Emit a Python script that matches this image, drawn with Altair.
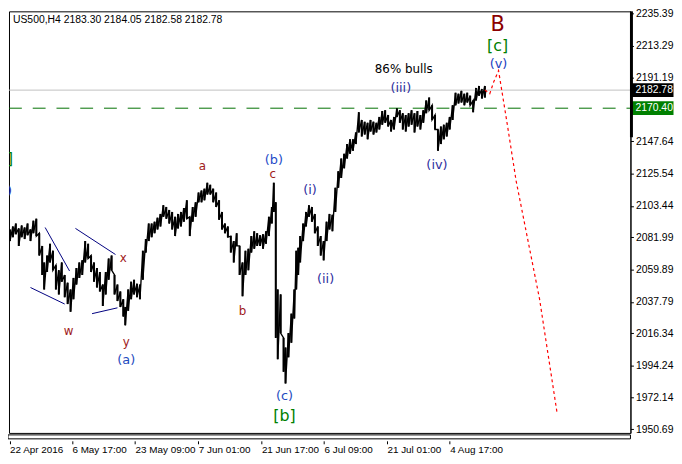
import altair as alt
import pandas as pd

# ---- price bars (bar index, high, low) ----
bar_x = [3, 6, 9, 12, 15, 18, 21, 24, 27, 30, 33, 36, 38, 41, 44, 47, 50, 53, 56, 59,
         62, 65, 68, 71, 74, 77, 80, 83, 86, 89, 92, 95, 98, 101, 104, 107, 110, 113, 116, 119,
         121, 124, 127, 130, 133, 136, 139, 142, 145, 148, 151, 154, 157, 160, 163, 166, 169, 172, 175, 178,
         181, 184, 187, 190, 193, 196, 199, 202, 205, 208, 211, 214, 217, 220, 223, 226, 229, 232, 235, 238,
         241, 244, 247, 250, 253, 256, 259, 262, 265, 268, 271, 273, 275, 277, 280, 283, 285, 288, 291, 294,
         296, 298, 300, 303, 306, 309, 312, 315, 318, 321, 324, 327, 330, 333, 336, 339, 342, 345, 348, 351,
         354, 357, 360, 363, 366, 369, 372, 375, 378, 381, 384, 387, 390, 393, 396, 399, 402, 405, 408, 411,
         414, 417, 420, 423, 426, 429, 432, 435, 438, 441, 444, 447, 450, 453, 456, 459, 462, 465, 468, 471,
         474, 477, 480, 483, 486, 489]
bar_high = [2087.4, 2089.4, 2091.4, 2088.1, 2090.1, 2088.7, 2091.4, 2087.4, 2093.4, 2094.7, 2084.8, 2076.1, 2064.8, 2069.5, 2077.5, 2072.8, 2062.9, 2059.5, 2064.8, 2056.2,
            2050.9, 2046.3, 2054.2, 2060.9, 2064.8, 2066.2, 2079.4, 2077.5, 2069.5, 2064.8, 2060.9, 2058.2, 2049.6, 2058.2, 2067.5, 2069.5, 2056.2, 2049.6, 2044.9, 2039.6,
            2034.3, 2046.3, 2051.6, 2052.9, 2050.2, 2049.6, 2072.8, 2080.8, 2091.4, 2091.4, 2092.7, 2095.4, 2098.0, 2104.0, 2102.7, 2100.7, 2099.4, 2096.0, 2098.0, 2099.4,
            2102.0, 2107.3, 2096.0, 2102.7, 2106.0, 2112.6, 2114.0, 2115.3, 2119.3, 2117.9, 2115.3, 2112.6, 2107.3, 2099.4, 2091.4, 2089.4, 2082.8, 2079.4, 2084.8, 2076.1,
            2064.8, 2072.8, 2074.1, 2082.8, 2086.1, 2084.8, 2083.4, 2084.1, 2086.1, 2096.0, 2102.7, 2119.3, 2106.0, 2046.3, 2042.9, 2013.1, 2006.5, 2016.4, 2029.7, 2046.3,
            2072.8, 2074.8, 2082.8, 2091.4, 2099.4, 2104.0, 2102.7, 2098.0, 2089.4, 2082.8, 2079.4, 2092.7, 2098.0, 2097.4, 2115.9, 2127.2, 2135.9, 2139.2, 2145.8, 2149.1,
            2149.1, 2153.8, 2167.7, 2162.4, 2161.1, 2160.4, 2162.4, 2161.1, 2160.4, 2164.4, 2168.4, 2169.0, 2165.7, 2162.4, 2164.4, 2170.4, 2169.0, 2167.0, 2165.7, 2167.0,
            2169.0, 2167.0, 2168.4, 2165.7, 2169.0, 2175.7, 2177.7, 2172.4, 2165.7, 2155.8, 2157.8, 2159.1, 2160.4, 2164.4, 2172.4, 2181.0, 2180.3, 2182.3, 2180.3, 2181.0,
            2179.0, 2175.7, 2184.3, 2185.6, 2183.6, 2185.6]
bar_low = [2079.4, 2082.1, 2084.1, 2076.1, 2082.1, 2080.8, 2083.4, 2079.4, 2084.8, 2082.8, 2069.5, 2056.2, 2046.3, 2058.2, 2064.8, 2059.5, 2046.3, 2042.9, 2051.6, 2041.0,
           2036.3, 2031.0, 2039.6, 2049.6, 2054.2, 2056.2, 2064.8, 2067.5, 2058.2, 2051.6, 2047.6, 2044.9, 2035.0, 2042.9, 2052.9, 2059.5, 2042.9, 2038.3, 2034.3, 2027.7,
           2021.7, 2031.7, 2039.6, 2042.9, 2041.0, 2039.6, 2052.9, 2071.5, 2079.4, 2082.1, 2084.8, 2087.4, 2089.4, 2096.0, 2094.7, 2091.4, 2087.4, 2082.8, 2088.1, 2089.4,
           2092.7, 2094.7, 2082.8, 2092.7, 2096.0, 2106.0, 2106.0, 2107.3, 2111.3, 2111.3, 2106.0, 2102.7, 2094.0, 2087.4, 2084.8, 2082.1, 2071.5, 2064.8, 2076.1, 2056.2,
           2041.6, 2056.2, 2059.5, 2071.5, 2074.1, 2076.1, 2076.1, 2074.1, 2077.5, 2082.8, 2091.4, 2099.4, 2013.1, 1998.5, 2016.4, 1989.9, 1981.9, 1999.8, 2009.8, 2026.4,
           2046.3, 2056.2, 2064.8, 2079.4, 2089.4, 2096.0, 2092.7, 2084.8, 2076.1, 2069.5, 2066.2, 2079.4, 2087.4, 2086.1, 2099.4, 2115.9, 2122.6, 2129.2, 2135.9, 2139.2,
           2141.2, 2145.8, 2153.8, 2151.1, 2152.4, 2149.1, 2154.4, 2152.4, 2153.8, 2155.8, 2159.1, 2160.4, 2157.8, 2154.4, 2155.8, 2164.4, 2160.4, 2155.8, 2154.4, 2157.8,
           2159.1, 2153.8, 2157.8, 2155.8, 2160.4, 2167.0, 2169.0, 2162.4, 2155.8, 2141.2, 2145.8, 2149.1, 2151.1, 2155.8, 2162.4, 2172.4, 2173.7, 2174.3, 2172.4, 2174.3,
           2172.4, 2167.7, 2175.7, 2179.0, 2177.0, 2177.7]
last_close = 2182.78
last_x = 490

# ---- projection (red dotted) ----
proj_x = [489, 494, 498, 503, 512, 521, 545, 563]
proj_y = [2182.8, 2180.3, 2188.3, 2196.2, 2159.1, 2120.6, 2039.6, 1961.3]

# ---- blue trend lines ----
tl_id = [1, 1, 2, 2, 3, 3, 4, 4]
tl_x = [24, 59, 39, 64, 70, 111, 87, 113]
tl_y = [2047.6, 2036.3, 2088.7, 2058.9, 2088.1, 2070.2, 2029.7, 2033.7]

# ---- wave labels ----
lab_text = ["[a]", "(v)", "w", "x", "y", "(a)", "a", "b", "(b)", "c", "(c)", "[b]",
            "(i)", "(ii)", "(iii)", "86% bulls", "(iv)", "(v)", "[c]", "B"]
lab_x = [-5, -4, 63, 119, 122, 122, 200, 241, 273, 272, 284, 284,
         310, 326, 403, 406, 440, 503, 502, 502]
lab_y = [2135.9, 2114.0, 2017.7, 2067.5, 2010.4, 1997.8, 2130.5, 2031.7, 2135.2, 2125.2, 1973.3, 1959.3,
         2114.6, 2053.6, 2184.3, 2196.9, 2131.2, 2200.9, 2212.8, 2227.5]
lab_color = ["#008000", "#2E2E9E", "#A0201A", "#A0201A", "#A0201A", "#1E4BC0", "#A0201A", "#A0201A",
             "#1E4BC8", "#A0201A", "#1E4BC0", "#008000",
             "#2E2E9E", "#2E2E9E", "#2E2E9E", "#000000", "#2E2E9E", "#2040C0", "#008000", "#8B0000"]
lab_size = [16, 13, 12, 12, 12, 13, 12, 12, 13, 12, 13, 16,
            13, 13, 13, 12, 13, 13, 16, 21]

# ---- levels & axes ----
current_price = 2182.78
level_price = 2170.40
y_ticks = [2235.39, 2213.29, 2191.19, 2147.64, 2125.54, 2103.44, 2081.99,
           2059.89, 2037.79, 2016.34, 1994.24, 1972.14, 1950.69]
x_tick_pos = [2.6, 66.4, 131, 195.7, 260.3, 324.4, 388.8, 453]
x_tick_lab = ["22 Apr 2016", "6 May 17:00", "23 May 09:00", "7 Jun 01:00",
              "21 Jun 17:00", "6 Jul 09:00", "21 Jul 01:00", "4 Aug 17:00"]
y_domain = [1948.04, 2236.72]
x_domain = [2, 638]
scale_bar_bottom = 2150.5

W, H = 628, 426
FONT = "Liberation Sans"

xs = alt.Scale(domain=x_domain, nice=False, zero=False)
ys = alt.Scale(domain=y_domain, nice=False, zero=False)

label_expr = " : ".join(f"abs(datum.value - {p}) < 0.5 ? '{l}'" for p, l in zip(x_tick_pos, x_tick_lab)) + " : ''"

bars = pd.DataFrame({"x": bar_x, "hi": bar_high, "lo": bar_low})

path_rows = []
k = 0
for xv, h, l in zip(bar_x, bar_high, bar_low):
    path_rows.append({"x": xv, "p": h, "o": k}); k += 1
    path_rows.append({"x": xv, "p": l, "o": k}); k += 1
path_rows.append({"x": last_x, "p": last_close, "o": k})
path = pd.DataFrame(path_rows)

x_axis = alt.Axis(
    values=x_tick_pos, labelExpr=label_expr, grid=False, domain=False,
    ticks=True, tickSize=3, tickColor="black", labelAlign="left", labelPadding=1,
    labelFont=FONT, labelFontSize=10, labelColor="black", offset=8, title=None,
    labelOverlap=False, labelFlush=False)
y_axis = alt.Axis(
    orient="right", values=y_ticks, format=".2f", grid=False, tickSize=3,
    tickColor="black", domainColor="black", labelFont=FONT, labelFontSize=10.5,
    labelColor="black", labelPadding=2, title=None, labelOverlap=False, labelFlush=False,
    labelBound=False)


def X(field="x:Q"):
    return alt.X(field, scale=xs, axis=x_axis)


def Y(field="p:Q"):
    return alt.Y(field, scale=ys, axis=y_axis)


rules = alt.Chart(bars).mark_rule(color="black", strokeWidth=2, clip=True).encode(
    x=X(), y=Y("hi:Q"), y2="lo:Q")

line = alt.Chart(path).mark_line(color="black", strokeWidth=1.4, clip=True).encode(
    x=X(), y=Y(), order="o:Q")

cur_df = pd.DataFrame({"p": [current_price], "t": [f"{current_price:.2f}"]})
lvl_df = pd.DataFrame({"p": [level_price], "t": [f"{level_price:.2f}"]})

cur_line = alt.Chart(cur_df).mark_rule(color="#C0C0C0", strokeWidth=1).encode(
    y=Y(), x=alt.value(0), x2=alt.value(W))
lvl_line = alt.Chart(lvl_df).mark_rule(color="#007000", strokeWidth=1, strokeDash=[13, 11]).encode(
    y=Y(), x=alt.value(0), x2=alt.value(W))

proj = alt.Chart(pd.DataFrame({"x": proj_x, "p": proj_y})).mark_line(
    color="#FF0000", strokeWidth=1.2, strokeDash=[3, 3], clip=True).encode(
    x=X(), y=Y())

tls = alt.Chart(pd.DataFrame({"id": tl_id, "x": tl_x, "p": tl_y})).mark_line(
    color="#000080", strokeWidth=1, clip=True).encode(
    x=X(), y=Y(), detail="id:N")

labels_df = pd.DataFrame({"t": lab_text, "x": lab_x, "p": lab_y, "c": lab_color, "s": lab_size})
labels = alt.Chart(labels_df).mark_text(font="DejaVu Sans", baseline="middle", align="center", clip=True).encode(
    x=X(), y=Y(), text="t:N",
    color=alt.Color("c:N", scale=None), size=alt.Size("s:Q", scale=None))

title_df = pd.DataFrame({"t": ["US500,H4  2183.30 2184.05 2182.58 2182.78"]})
title = alt.Chart(title_df).mark_text(font=FONT, fontSize=10.5, align="left", baseline="middle", color="black").encode(
    x=alt.value(4), y=alt.value(9), text="t:N")

# right side price tags
cur_tag = alt.Chart(cur_df).mark_tick(orient="horizontal", thickness=14, size=43, color="black", opacity=1).encode(
    y=Y(), x=alt.value(W + 22))
cur_txt = alt.Chart(cur_df).mark_text(font=FONT, fontSize=10.5, align="left", baseline="middle", color="white").encode(
    y=Y(), x=alt.value(W + 5), text="t:N")
lvl_tag = alt.Chart(lvl_df).mark_tick(orient="horizontal", thickness=14, size=43, color="#008000", opacity=1).encode(
    y=Y(), x=alt.value(W + 22))
lvl_txt = alt.Chart(lvl_df).mark_text(font=FONT, fontSize=10.5, align="left", baseline="middle", color="white").encode(
    y=Y(), x=alt.value(W + 5), text="t:N")

scale_bar = alt.Chart(pd.DataFrame({"a": [y_domain[1]], "b": [scale_bar_bottom]})).mark_rule(
    color="black", strokeWidth=3).encode(
    y=Y("a:Q"), y2="b:Q", x=alt.value(W + 1))

strip = alt.Chart(pd.DataFrame({"k": [0]})).mark_rect(fill="white", stroke="black", strokeWidth=1).encode(
    x=alt.value(-1), x2=alt.value(W), y=alt.value(H + 2), y2=alt.value(H + 6))

chart = alt.layer(
    rules, cur_line, lvl_line, line, tls, proj, labels, title,
    cur_tag, cur_txt, lvl_tag, lvl_txt, scale_bar, strip
).properties(
    width=W, height=H,
    autosize=alt.AutoSizeParams(type="none"),
    padding={"left": 1, "top": 1, "right": 44, "bottom": 26},
    background="white",
).configure_view(stroke="black", strokeWidth=1)

chart.save("out.html", embed_options={"renderer": "svg", "actions": False})
